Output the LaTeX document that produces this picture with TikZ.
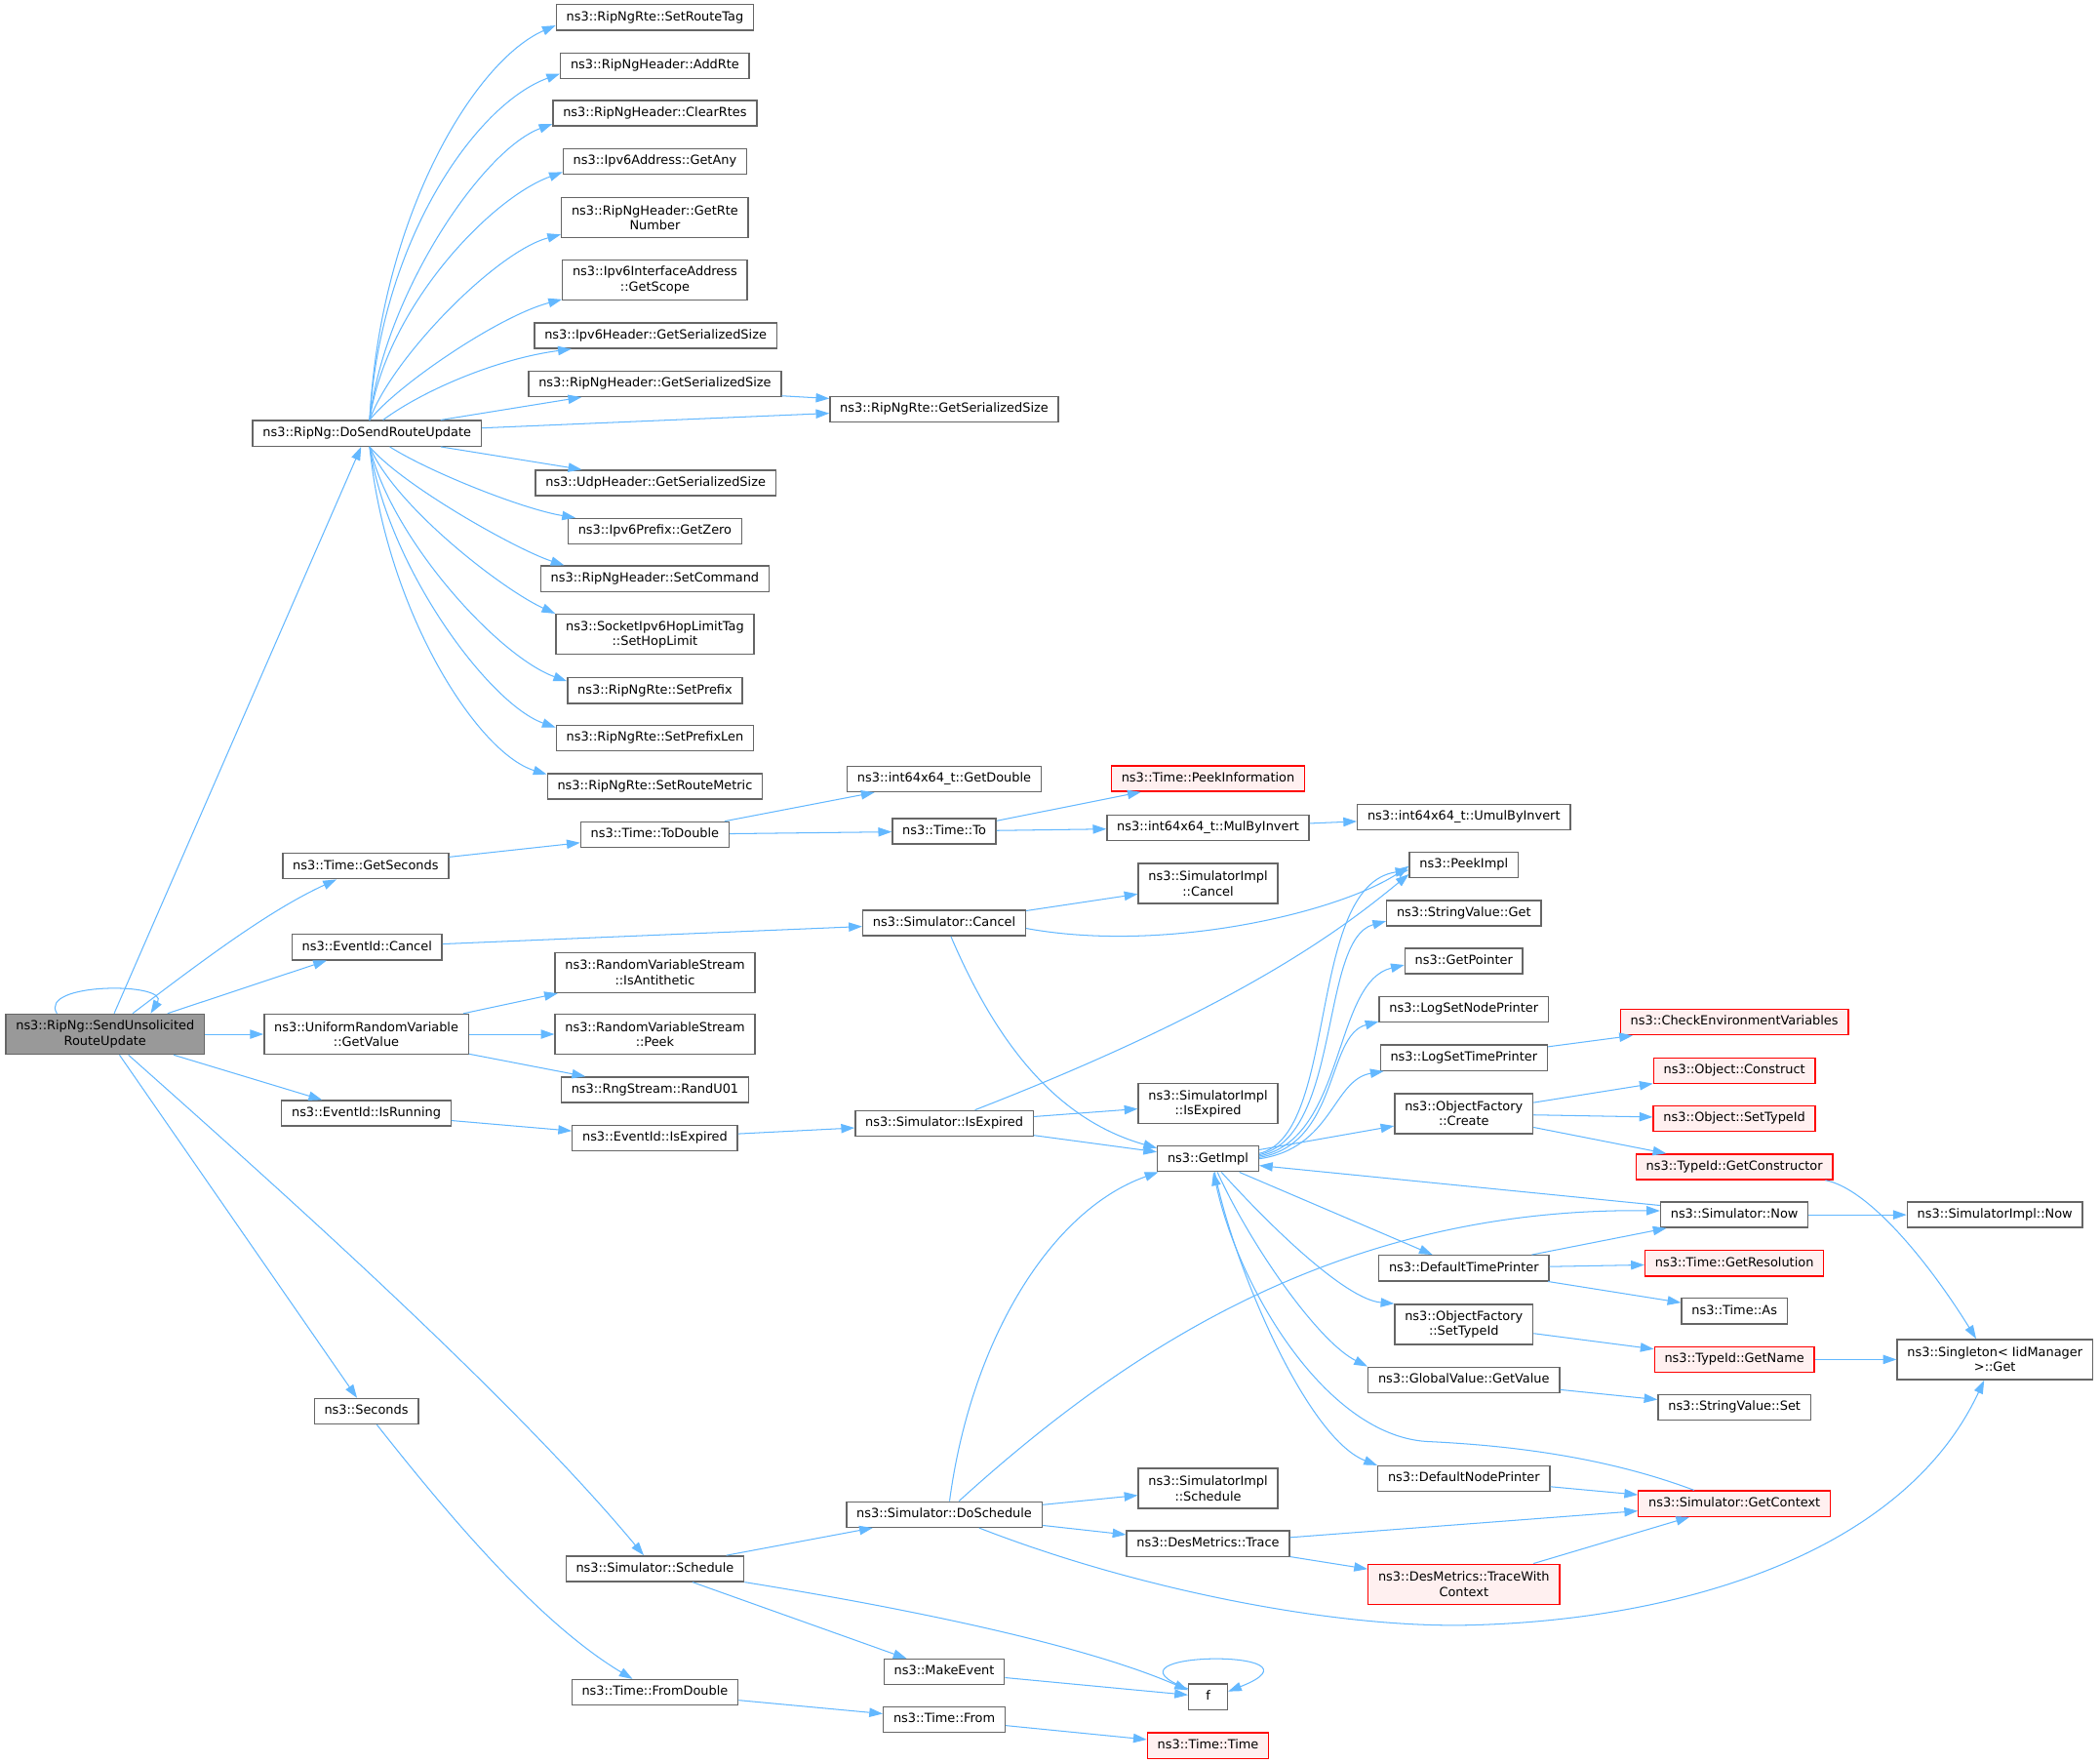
\documentclass[tikz,border=0pt]{standalone}
\usepackage{fontspec}
\setmainfont{DejaVu Sans}
\usetikzlibrary{arrows.meta}
\definecolor{edgeblue}{HTML}{63B8FF}
\definecolor{boxgray}{HTML}{666666}
\definecolor{rootgray}{HTML}{999999}
\definecolor{redfill}{HTML}{FFF0F0}

\begin{document}
\begin{tikzpicture}[x=1pt,y=-1pt,
    fnbox/.style={draw=boxgray,fill=white,line width=1pt,inner xsep=7.5pt,inner ysep=0pt,
      minimum height=19pt,text height=7pt,text depth=2.2pt,
      font=\fontsize{9.4}{11.2}\selectfont},
    twoline/.style={align=center,text height={},text depth={},minimum height=30pt},
    rootbox/.style={fnbox,fill=rootgray},
    redbox/.style={fnbox,draw=red,fill=redfill},
    calls/.style={draw=edgeblue,line width=0.75pt,-{Triangle[length=10pt,width=6.8pt]}}]
    \path[use as bounding box,fill=white] (0,0) rectangle (1568,1316);

    % Root and its direct calls
    \node[rootbox,twoline] (main) at (78.5,772) {ns3::RipNg::SendUnsolicited\\RouteUpdate};
    \node[fnbox] (dosend) at (274,323.5) {ns3::RipNg::DoSendRouteUpdate};
    \node[fnbox] (getseconds) at (273,646.5) {ns3::Time::GetSeconds};
    \node[fnbox] (evcancel) at (274,707) {ns3::EventId::Cancel};
    \node[fnbox,twoline] (urvgetvalue) at (273.5,772) {ns3::UniformRandomVariable\\::GetValue};
    \node[fnbox] (isrunning) at (273.5,831) {ns3::EventId::IsRunning};
    \node[fnbox] (seconds) at (273.5,1053.5) {ns3::Seconds};

    % Third column
    \node[fnbox] (setroutetag) at (489,13) {ns3::RipNgRte::SetRouteTag};
    \node[fnbox] (addrte) at (489,49) {ns3::RipNgHeader::AddRte};
    \node[fnbox] (clearrtes) at (489,84.5) {ns3::RipNgHeader::ClearRtes};
    \node[fnbox] (getany) at (489,120.5) {ns3::Ipv6Address::GetAny};
    \node[fnbox,twoline] (getrtenumber) at (489,162.5) {ns3::RipNgHeader::GetRte\\Number};
    \node[fnbox,twoline] (getscope) at (489,209) {ns3::Ipv6InterfaceAddress\\::GetScope};
    \node[fnbox] (ipv6hdrsize) at (489.5,250.5) {ns3::Ipv6Header::GetSerializedSize};
    \node[fnbox] (riphdrsize) at (489,286.5) {ns3::RipNgHeader::GetSerializedSize};
    \node[fnbox] (udpsize) at (489.5,360.5) {ns3::UdpHeader::GetSerializedSize};
    \node[fnbox] (getzero) at (489,396.5) {ns3::Ipv6Prefix::GetZero};
    \node[fnbox] (setcommand) at (489,432) {ns3::RipNgHeader::SetCommand};
    \node[fnbox,twoline] (sethoplimit) at (489,473.5) {ns3::SocketIpv6HopLimitTag\\::SetHopLimit};
    \node[fnbox] (setprefix) at (489,515.5) {ns3::RipNgRte::SetPrefix};
    \node[fnbox] (setprefixlen) at (489,551) {ns3::RipNgRte::SetPrefixLen};
    \node[fnbox] (setroutemetric) at (489,587) {ns3::RipNgRte::SetRouteMetric};
    \node[fnbox] (todouble) at (489,623) {ns3::Time::ToDouble};
    \node[fnbox,twoline] (isantithetic) at (489,726) {ns3::RandomVariableStream\\::IsAntithetic};
    \node[fnbox,twoline] (rvspeek) at (489,772) {ns3::RandomVariableStream\\::Peek};
    \node[fnbox] (randu) at (489,813.5) {ns3::RngStream::RandU01};
    \node[fnbox] (evisexpired) at (489,849.5) {ns3::EventId::IsExpired};
    \node[fnbox] (schedule) at (489,1171) {ns3::Simulator::Schedule};
    \node[fnbox] (fromdouble) at (489,1263.3) {ns3::Time::FromDouble};

    % Fourth column
    \node[fnbox] (rtesize) at (705,305.5) {ns3::RipNgRte::GetSerializedSize};
    \node[fnbox] (getdouble) at (705,581.5) {ns3::int64x64\_t::GetDouble};
    \node[fnbox] (timeto) at (705,620.5) {ns3::Time::To};
    \node[fnbox] (simcancel) at (705,689) {ns3::Simulator::Cancel};
    \node[fnbox] (simisexpired) at (705,838.5) {ns3::Simulator::IsExpired};
    \node[fnbox] (doschedule) at (705,1130.5) {ns3::Simulator::DoSchedule};
    \node[fnbox] (makeevent) at (705,1248) {ns3::MakeEvent};
    \node[fnbox] (timefrom) at (705,1283.5) {ns3::Time::From};

    % Fifth column
    \node[redbox] (peekinfo) at (902,581.2) {ns3::Time::PeekInformation};
    \node[fnbox] (mulbyinvert) at (902,617.8) {ns3::int64x64\_t::MulByInvert};
    \node[fnbox,twoline] (implcancel) at (902,659.5) {ns3::SimulatorImpl\\::Cancel};
    \node[fnbox,twoline] (implisexpired) at (902,823.8) {ns3::SimulatorImpl\\::IsExpired};
    \node[fnbox] (getimpl) at (902,865) {ns3::GetImpl};
    \node[fnbox,twoline] (implschedule) at (902,1111) {ns3::SimulatorImpl\\::Schedule};
    \node[fnbox] (dmtrace) at (902,1152.3) {ns3::DesMetrics::Trace};
    \node[fnbox,minimum width=29pt] (ff) at (902,1266.6) {f};
    \node[redbox] (timetime) at (902,1303) {ns3::Time::Time};

    % Sixth column
    \node[fnbox] (umulbyinvert) at (1093,609.8) {ns3::int64x64\_t::UmulByInvert};
    \node[fnbox] (peekimpl) at (1093,645.5) {ns3::PeekImpl};
    \node[fnbox] (svget) at (1093,681.6) {ns3::StringValue::Get};
    \node[fnbox] (getpointer) at (1093,717.3) {ns3::GetPointer};
    \node[fnbox] (lognode) at (1093,753.5) {ns3::LogSetNodePrinter};
    \node[fnbox] (logtime) at (1093,789.6) {ns3::LogSetTimePrinter};
    \node[fnbox,twoline] (ofcreate) at (1093,831.3) {ns3::ObjectFactory\\::Create};
    \node[fnbox] (deftime) at (1093,946.6) {ns3::DefaultTimePrinter};
    \node[fnbox,twoline] (ofsettypeid) at (1093,988.6) {ns3::ObjectFactory\\::SetTypeId};
    \node[fnbox] (gvgetvalue) at (1093,1030) {ns3::GlobalValue::GetValue};
    \node[fnbox] (defnode) at (1093,1103.8) {ns3::DefaultNodePrinter};
    \node[redbox,twoline] (tracectx) at (1093,1182.6) {ns3::DesMetrics::TraceWith\\Context};

    % Seventh and eighth columns
    \node[redbox] (checkenv) at (1295,763) {ns3::CheckEnvironmentVariables};
    \node[redbox] (objconstruct) at (1295,799.2) {ns3::Object::Construct};
    \node[redbox] (objsettypeid) at (1295,834.9) {ns3::Object::SetTypeId};
    \node[redbox] (getconstructor) at (1295,871) {ns3::TypeId::GetConstructor};
    \node[fnbox] (simnow) at (1295,906.8) {ns3::Simulator::Now};
    \node[redbox] (getresolution) at (1295,943) {ns3::Time::GetResolution};
    \node[fnbox] (timeas) at (1295,978.7) {ns3::Time::As};
    \node[redbox] (getname) at (1295,1014.8) {ns3::TypeId::GetName};
    \node[fnbox] (svset) at (1295,1050.6) {ns3::StringValue::Set};
    \node[redbox] (getcontext) at (1295,1122.4) {ns3::Simulator::GetContext};
    \node[fnbox] (implnow) at (1489.5,906.8) {ns3::SimulatorImpl::Now};
    \node[fnbox,twoline] (singleton) at (1489.5,1014.8) {ns3::Singleton< IidManager\\>::Get};

    % Calls from the root
    \draw[calls] ([xshift=-36pt]main.north) .. controls (28,733) and (127,733) .. ([xshift=34pt]main.north);
    \draw[calls] (main) -- (dosend);
    \draw[calls] (main) .. controls (150,718) and (200,680) .. (getseconds);
    \draw[calls] (main) -- (evcancel);
    \draw[calls] (main) -- (urvgetvalue);
    \draw[calls] (main) -- (isrunning);
    \draw[calls] (main) -- (seconds);
    \draw[calls] (main) .. controls (200,880) and (380,1040) .. (schedule);

    % Fan of DoSendRouteUpdate
    \draw[calls] ([xshift=2pt]dosend.north) .. controls (284,160) and (355,45) .. ([yshift=4pt]setroutetag.south west);
    \draw[calls] ([xshift=2pt]dosend.north) .. controls (284,180) and (355,78) .. ([yshift=4pt]addrte.south west);
    \draw[calls] ([xshift=2pt]dosend.north) .. controls (287,220) and (360,112) .. ([yshift=2pt]clearrtes.south west);
    \draw[calls] ([xshift=2pt]dosend.north) .. controls (288,230) and (366,148) .. ([yshift=2pt]getany.south west);
    \draw[calls] ([xshift=2pt]dosend.north) .. controls (292,268) and (370,188) .. ([yshift=3pt]getrtenumber.south west);
    \draw[calls] ([xshift=2pt]dosend.north) .. controls (296,288) and (372,236) .. ([yshift=1pt]getscope.south west);
    \draw[calls] ([xshift=12pt]dosend.north) .. controls (315,292) and (370,268) .. ([xshift=28pt]ipv6hdrsize.south west);
    \draw[calls] ([xshift=55pt]dosend.north) -- ([xshift=40pt]riphdrsize.south west);
    \draw[calls] ([yshift=4pt]dosend.east) -- ([yshift=-3pt]rtesize.west);
    \draw[calls] ([yshift=1pt]riphdrsize.south east) -- ([yshift=-2pt]rtesize.north west);
    \draw[calls] ([xshift=55pt]dosend.south) -- ([xshift=35pt]udpsize.north west);
    \draw[calls] ([xshift=17pt]dosend.south) .. controls (320,352) and (390,380) .. ([xshift=6pt]getzero.north west);
    \draw[calls] ([xshift=2pt]dosend.south) .. controls (300,362) and (385,410) .. ([xshift=18pt]setcommand.north west);
    \draw[calls] ([xshift=2pt]dosend.south) .. controls (295,378) and (375,440) .. (sethoplimit.north west);
    \draw[calls] ([xshift=2pt]dosend.south) .. controls (292,402) and (372,490) .. ([yshift=-3pt]setprefix.north west);
    \draw[calls] ([xshift=2pt]dosend.south) .. controls (290,425) and (366,526) .. ([yshift=-2pt]setprefixlen.north west);
    \draw[calls] ([xshift=2pt]dosend.south) .. controls (288,455) and (356,562) .. ([yshift=-1pt]setroutemetric.north west);

    % Time conversions and random values
    \draw[calls] (getseconds) -- (todouble);
    \draw[calls] (todouble) -- (getdouble);
    \draw[calls] (todouble) -- (timeto);
    \draw[calls] (timeto) -- (peekinfo);
    \draw[calls] (timeto) -- (mulbyinvert);
    \draw[calls] (mulbyinvert) -- (umulbyinvert);
    \draw[calls] (urvgetvalue) -- (isantithetic);
    \draw[calls] (urvgetvalue) -- (rvspeek);
    \draw[calls] (urvgetvalue) -- (randu);

    % Event id calls
    \draw[calls] (evcancel) -- (simcancel);
    \draw[calls] (simcancel) -- (implcancel);
    \draw[calls] ([yshift=-4pt]simcancel.east) .. controls (870,712) and (1000,681) .. ([yshift=-1pt]peekimpl.west);
    \draw[calls] ([xshift=5pt]simcancel.south) .. controls (745,781) and (790,836) .. ([yshift=-2pt]getimpl.north west);
    \draw[calls] (isrunning) -- (evisexpired);
    \draw[calls] (evisexpired) -- (simisexpired);
    \draw[calls] (simisexpired) -- (implisexpired);
    \draw[calls] (simisexpired) -- (getimpl);
    \draw[calls] ([xshift=23pt]simisexpired.north) .. controls (930,750) and (1005,691) .. ([yshift=-7pt]peekimpl.west);

    % GetImpl and its callees
    \draw[calls] ([yshift=4pt]getimpl.east) .. controls (1000,847) and (975,661) .. ([yshift=-4pt]peekimpl.west);
    \draw[calls] ([yshift=3pt]getimpl.east) .. controls (1002,848) and (985,701) .. ([yshift=-6pt]svget.west);
    \draw[calls] ([yshift=2pt]getimpl.east) .. controls (1005,850) and (995,733) .. ([yshift=-3pt]getpointer.west);
    \draw[calls] ([yshift=1pt]getimpl.east) .. controls (1000,854) and (990,773) .. ([yshift=1pt]lognode.south west);
    \draw[calls] (getimpl.east) .. controls (995,857) and (995,806) .. ([xshift=3pt]logtime.south west);
    \draw[calls] (getimpl) -- (ofcreate);
    \draw[calls] (getimpl) -- (deftime);
    \draw[calls] ([xshift=10pt]getimpl.south) .. controls (950,917) and (1005,970) .. (ofsettypeid.north west);
    \draw[calls] ([xshift=7pt]getimpl.south) .. controls (935,932) and (985,1002) .. (gvgetvalue.north west);
    \draw[calls] ([xshift=5pt]getimpl.south) .. controls (920,942) and (975,1073) .. (defnode.north west);
    \draw[calls] ([yshift=7pt]simnow.west) -- ([yshift=-5pt]getimpl.east);
    \draw[calls] ([xshift=-30pt]getcontext.north) .. controls (1200,1088) and (1130,1079) .. (1065,1076)
        .. controls (990,1071) and (925,962) .. ([xshift=4pt]getimpl.south);
    \draw[calls] (logtime) -- (checkenv);
    \draw[calls] (ofcreate) -- (objconstruct);
    \draw[calls] (ofcreate) -- (objsettypeid);
    \draw[calls] (ofcreate) -- (getconstructor);
    \draw[calls] ([xshift=-6pt]getconstructor.south east) .. controls (1395,887) and (1440,942) .. ([xshift=-14pt]singleton.north);
    \draw[calls] (deftime) -- (simnow);
    \draw[calls] (deftime) -- (getresolution);
    \draw[calls] (deftime) -- (timeas);
    \draw[calls] (simnow) -- (implnow);
    \draw[calls] (ofsettypeid) -- (getname);
    \draw[calls] (getname) -- (singleton);
    \draw[calls] (gvgetvalue) -- (svset);
    \draw[calls] (defnode) -- (getcontext);

    % Scheduling
    \draw[calls] (schedule) -- (doschedule);
    \draw[calls] (schedule) -- (makeevent);
    \draw[calls] (schedule.south east) .. controls (680,1201) and (810,1228) .. ([yshift=5pt]ff.west);
    \draw[calls] ([xshift=4pt]doschedule.north) .. controls (725,1000) and (785,903) .. ([xshift=1pt]getimpl.south west);
    \draw[calls] ([xshift=11pt]doschedule.north) .. controls (840,1008) and (1000,901) .. ([yshift=3pt]simnow.west);
    \draw[calls] (doschedule) -- (implschedule);
    \draw[calls] (doschedule) -- (dmtrace);
    \draw[calls] ([xshift=26pt]doschedule.south) .. controls (850,1187) and (1000,1216) .. (1100,1213)
        .. controls (1250,1209) and (1420,1162) .. ([xshift=-8pt]singleton.south);
    \draw[calls] (dmtrace) -- (getcontext);
    \draw[calls] (dmtrace) -- (tracectx);
    \draw[calls] (tracectx) -- (getcontext);
    \draw[calls] (makeevent) -- (ff);
    \draw[calls] ([yshift=6pt]ff.west) .. controls (810,1232) and (1000,1230) .. ([yshift=4pt]ff.east);

    % Seconds to time
    \draw[calls] (seconds) .. controls (330,1125) and (400,1210) .. (fromdouble);
    \draw[calls] (fromdouble) -- (timefrom);
    \draw[calls] (timefrom) -- (timetime);
\end{tikzpicture}
\end{document}
